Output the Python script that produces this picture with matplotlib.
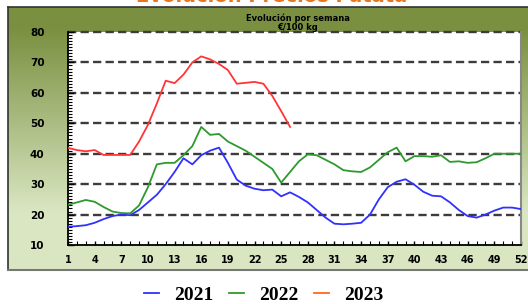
import numpy as np
import matplotlib
matplotlib.use("Agg")
import matplotlib.pyplot as plt
from matplotlib.lines import Line2D
from matplotlib.ticker import MultipleLocator

weeks = list(range(1, 53))
series_2021 = [16, 16.2, 16.5, 17.3, 18.5, 19.5, 20, 19.8, 21.5, 24,
               26.5, 30, 34, 38.5, 36.5, 39.5, 41, 42, 37, 31.5,
               29.5, 28.5, 28, 28.2, 26, 27.3, 25.8, 24, 21.5, 19,
               17, 16.8, 17, 17.3, 20, 25, 29, 30.8, 31.6, 29.8,
               27.5, 26.2, 26, 24, 21.5, 19.5, 19, 20, 21.3, 22.3,
               22.3, 21.8]
series_2022 = [23.2, 24, 24.8, 24.2, 22.5, 21, 20.5, 20.4, 23, 29,
               36.5, 37, 37, 39.5, 42.5, 48.8, 46.2, 46.5, 44, 42.5,
               41, 39, 37, 35, 30.5, 34, 37.5, 39.8, 39.5, 38,
               36.5, 34.6, 34.2, 34, 35.5, 38, 40.5, 42, 37.5, 39.2,
               39.2, 39, 39.5, 37.3, 37.5, 37, 37.2, 38.5, 40, 40,
               40, 40]
series_2023 = [41.9, 41.2, 40.8, 41.2, 39.6, 39.6, 39.6, 39.6, 44, 49.5,
               56.5, 64, 63.2, 66, 70, 72, 71, 69.5, 67.5, 63,
               63.3, 63.6, 63, 59, 54, 48.8]
year_labels = ["2021", "2022", "2023"]
x_tick_labels = [str(w) for w in range(1, 53, 3)]
y_ticks = [10, 20, 30, 40, 50, 60, 70, 80]

W, H = 528, 304
fig = plt.figure(figsize=(W / 100, H / 100), dpi=100)
fig.patch.set_facecolor("white")

# background panel with vertical gradient
pl, pr, pt, pb = 8, 528, 7, 270
bg = fig.add_axes([pl / W, 1 - pb / H, (pr - pl) / W, (pb - pt) / H])
top_c = np.array([0x7A, 0x90, 0x40]) / 255
bot_c = np.array([0xDA, 0xE6, 0xC2]) / 255
t = np.linspace(0, 1, 256)[:, None]
t2 = np.clip((t - 0.08) / 0.70, 0, 1)
grad = top_c * (1 - t2) + bot_c * t2
bg.imshow(grad[:, None, :] * np.ones((1, 10, 1)), aspect="auto", extent=[0, 1, 0, 1])
bg.set_xlim(0, 1)
bg.set_ylim(0, 1)
bg.set_xticks([])
bg.set_yticks([])
for s in ["top", "left"]:
    bg.spines[s].set_color("#333333")
    bg.spines[s].set_linewidth(1.2)
bg.spines["bottom"].set_color("#777777")
bg.spines["bottom"].set_linewidth(1.5)
bg.spines["right"].set_visible(False)
bg.set_zorder(0)

# plot area
L, R, T, B = 68, 521, 32, 245
ax = fig.add_axes([L / W, 1 - B / H, (R - L) / W, (B - T) / H])
ax.set_zorder(1)
ax.set_facecolor("white")
ax.set_xlim(1, 52)
ax.set_ylim(10, 80)

for y in [20, 30, 40, 50, 60, 70, 80]:
    ax.axhline(y, color="#3c3c3c", lw=1.7, dashes=(3.5, 1.8), zorder=1, clip_on=False)

c21, c22, c23 = "#3030FF", "#2E9A2E", "#FF3535"
ax.plot(weeks, series_2021, color=c21, lw=1.3, zorder=3)
ax.plot(weeks, series_2022, color=c22, lw=1.3, zorder=3)
ax.plot(weeks[:len(series_2023)], series_2023, color=c23, lw=1.3, zorder=3)

ax.set_yticks(y_ticks)
ax.set_yticklabels([str(v) for v in y_ticks], fontsize=7.5, fontweight="bold")
ax.yaxis.set_minor_locator(MultipleLocator(1))
ax.tick_params(axis="y", which="major", direction="in", length=4, width=1, pad=17)
ax.tick_params(axis="y", which="minor", direction="in", length=3, width=0.8)
ax.set_xticks(list(range(1, 53, 3)))
ax.set_xticklabels(x_tick_labels, fontsize=7, fontweight="bold")
ax.xaxis.set_minor_locator(MultipleLocator(1))
ax.tick_params(axis="x", which="major", direction="in", length=3, width=1, pad=7)
ax.tick_params(axis="x", which="minor", direction="in", length=3, width=0.8)

ax.spines["top"].set_visible(False)
ax.spines["right"].set_color("#888888")
ax.spines["right"].set_linewidth(1.5)
ax.spines["left"].set_linewidth(1.3)
ax.spines["bottom"].set_linewidth(1.3)

# titles
fig.text(272 / W, 1 - 1.5 / H, "Evolución Precios Patata", ha="center", va="baseline",
         fontsize=14, fontweight="bold", color="#E8761E")
fig.text(298 / W, 1 - 18 / H, "Evolución por semana", ha="center", va="center",
         fontsize=6, fontweight="bold", color="black")
fig.text(298 / W, 1 - 27 / H, "€/100 kg", ha="center", va="center",
         fontsize=6, fontweight="bold", color="black")

handles = [Line2D([0], [0], color=c21, lw=1.3),
           Line2D([0], [0], color=c22, lw=1.3),
           Line2D([0], [0], color="#FF6A1A", lw=1.3)]
fig.legend(handles, year_labels, loc="center", bbox_to_anchor=(264 / W, 1 - 295 / H),
           ncol=3, frameon=False, handlelength=0.75, handletextpad=0.8, columnspacing=0.8,
           prop={"family": "Liberation Serif", "weight": "bold", "size": 14})

fig.savefig("out.png", dpi=100)
